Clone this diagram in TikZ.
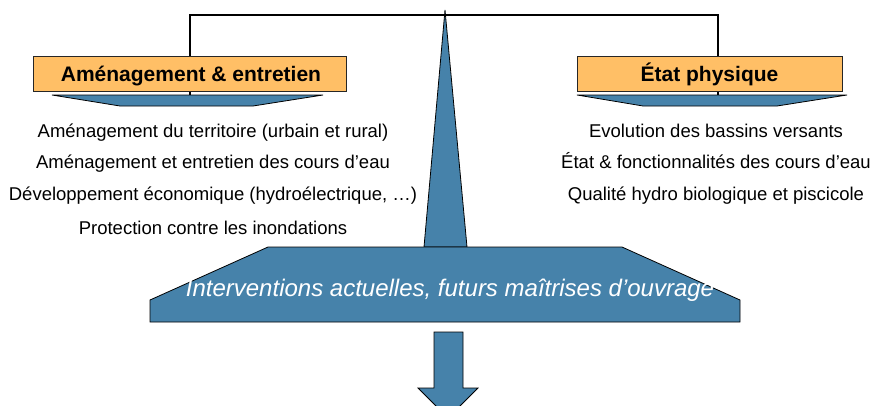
\documentclass[tikz,border=0pt]{standalone}
\usepackage{fontspec}
\setmainfont{Liberation Sans}
\usepackage{xcolor}
\usepackage{tikz}
\usetikzlibrary{positioning}
\definecolor{riverblue}{RGB}{70,130,170}
\definecolor{titleorange}{RGB}{255,191,102}
\tikzset{
    titlebox/.style = {rectangle, draw=black!85, fill=titleorange, line width=1pt, inner sep=0pt, minimum height=35pt, font=\fontsize{21}{24}\selectfont\bfseries},
    titletext/.style = {anchor=base, inner sep=0pt, font=\fontsize{21}{24}\selectfont\bfseries},
    listitem/.style = {anchor=base, inner sep=0pt, font=\fontsize{18.5}{21}\selectfont},
    bluepart/.style = {fill=riverblue, draw=black, line width=0.8pt, line join=miter},
}

\begin{document}
\begin{tikzpicture}[
	x=1pt, y=-1pt
]
\useasboundingbox (0,0) rectangle (877,405);
\clip (0,0) rectangle (877,405);
% beam of the balance
\coordinate (hookl) at (190,95);
\coordinate (beaml) at (190,15);
\coordinate (beamr) at (718,15);
\coordinate (hookr) at (718,95);
\draw[line width=2.5pt] (hookl) -- (beaml) -- (beamr) -- (hookr);
% pole and base
\coordinate (apex) at (445,10);
\path[bluepart] (apex) -- (467,247) -- (424,247) -- cycle;
\path[bluepart] (268,247) -- (622,247) -- (740,300) -- (740,322) -- (150,322) -- (150,300) -- cycle;
\node[anchor=base, inner sep=0pt, text=white, font=\fontsize{24}{28}\selectfont\itshape] (interv) at (450,296) {Interventions actuelles, futurs maîtrises d’ouvrage};
\path[bluepart] (434,332) -- (463,332) -- (463,388) -- (478,388) -- (448,418) -- (418,388) -- (434,388) -- cycle;
% pans
\path[bluepart] (52,95) -- (323,95) -- (253,106) -- (120,106) -- cycle;
\path[bluepart] (577,95) -- (847,95) -- (777,106) -- (643,106) -- cycle;
\node[titlebox, minimum width=313pt] (amen) at (189.5,73.5) {};
\node[titlebox, minimum width=265pt] (etat) at (709.5,73.5) {};
\node[titletext] (amentitle) at (191,81) {Aménagement \& entretien};
\node[titletext] (etattitle) at (709.5,81) {État physique};
% left list
\node[listitem] (amen1) at (213,137) {Aménagement du territoire (urbain et rural)};
\node[listitem] (amen2) at (213,168) {Aménagement et entretien des cours d’eau};
\node[listitem] (amen3) at (213,200) {Développement économique (hydroélectrique, …)};
\node[listitem] (amen4) at (213,234) {Protection contre les inondations};
% right list
\node[listitem] (etat1) at (716,137) {Evolution des bassins versants};
\node[listitem] (etat2) at (716,168) {État \& fonctionnalités des cours d’eau};
\node[listitem] (etat3) at (716,200) {Qualité hydro biologique et piscicole};

\end{tikzpicture}
\end{document}
